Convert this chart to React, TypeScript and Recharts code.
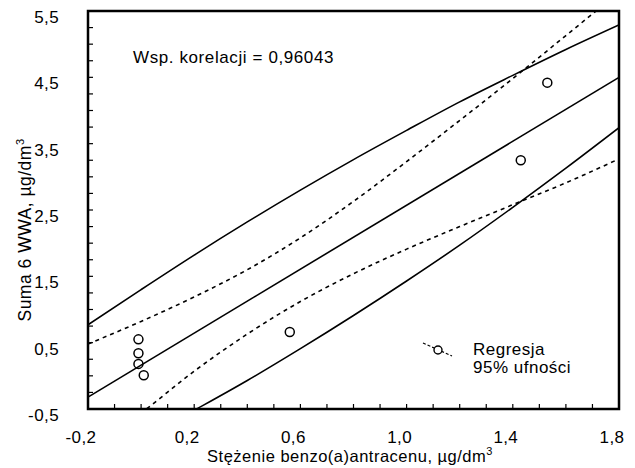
import React from "react";
import { ComposedChart, Line, Scatter, XAxis, YAxis, ReferenceArea } from "recharts";

// curves at every 0,2 along the x axis
const xGrid = [-0.2, 0.0, 0.2, 0.4, 0.6, 0.8, 1.0, 1.2, 1.4, 1.6, 1.8];
const upperBand = [0.77, 1.3, 1.82, 2.32, 2.8, 3.26, 3.7, 4.13, 4.53, 4.92, 5.29];
const upperConf = [0.48, 0.82, 1.19, 1.6, 2.08, 2.63, 3.23, 3.85, 4.48, 5.13, 5.78];
const lowerConf = [-1.12, -0.56, 0.07, 0.63, 1.12, 1.54, 1.91, 2.25, 2.58, 2.91, 3.27];
const lowerBand = [-1.36, -0.96, -0.52, -0.07, 0.41, 0.91, 1.43, 1.97, 2.54, 3.13, 3.74];

// regression line, end points
const regX = [-0.2, 1.8];
const regY = [-0.32, 4.5];

// measured samples
const sampleX = [-0.01, -0.01, -0.01, 0.01, 0.56, 1.43, 1.53];
const sampleY = [0.55, 0.34, 0.18, 0.01, 0.66, 3.25, 4.42];

const xMajor = [-0.2, 0.2, 0.6, 1.0, 1.4, 1.8];
const xTicks = [
  -0.2, -0.1, 0.0, 0.1, 0.2, 0.3, 0.4, 0.5, 0.6, 0.7, 0.8, 0.9, 1.0, 1.1, 1.2,
  1.3, 1.4, 1.5, 1.6, 1.7, 1.8,
];
const yMajor = [-0.5, 0.5, 1.5, 2.5, 3.5, 4.5, 5.5];
const yTicks = [
  -0.5, -0.25, 0.0, 0.25, 0.5, 0.75, 1.0, 1.25, 1.5, 1.75, 2.0, 2.25, 2.5, 2.75,
  3.0, 3.25, 3.5, 3.75, 4.0, 4.25, 4.5, 4.75, 5.0, 5.25, 5.5,
];

const FONT = "'Liberation Sans', Arial, sans-serif";
const PLOT = { left: 88, right: 619, top: 11, bottom: 409 };

const toPoints = (xs: number[], ys: number[]) =>
  xs.map((x, i) => ({ x, y: ys[i] }));
const isMajor = (list: number[], v: number) =>
  list.some((m) => Math.abs(m - v) < 1e-6);
const fmt = (v: number) => v.toFixed(1).replace(".", ",");

const tickText = { fontFamily: FONT, fontSize: 17, letterSpacing: 0.4, fill: "#000" };
const titleText = { fontFamily: FONT, letterSpacing: 0.5, fill: "#000" };

function BottomTick(props: any) {
  const { x, payload } = props;
  const major = isMajor(xMajor, payload.value);
  return (
    <g>
      <line x1={x} x2={x} y1={PLOT.bottom} y2={PLOT.bottom - 5} stroke="#000" strokeWidth={1.2} />
      {major && (
        <text x={x - 7} y={443} textAnchor="middle" style={tickText}>
          {fmt(payload.value)}
        </text>
      )}
    </g>
  );
}

function TopTick(props: any) {
  const { x } = props;
  return <line x1={x} x2={x} y1={PLOT.top} y2={PLOT.top + 5} stroke="#000" strokeWidth={1.2} />;
}

function LeftTick(props: any) {
  const { y, payload } = props;
  const major = isMajor(yMajor, payload.value);
  return (
    <g>
      <line x1={PLOT.left} x2={PLOT.left + 5} y1={y} y2={y} stroke="#000" strokeWidth={1.2} />
      {major && (
        <text x={59} y={y + 12} textAnchor="end" style={tickText}>
          {fmt(payload.value)}
        </text>
      )}
    </g>
  );
}

function RightTick(props: any) {
  const { y } = props;
  return <line x1={PLOT.right} x2={PLOT.right - 5} y1={y} y2={y} stroke="#000" strokeWidth={1.2} />;
}

const Ring = (p: any) => (
  <circle cx={p.cx} cy={p.cy} r={4.5} fill="none" stroke="#000" strokeWidth={1.5} />
);

const lineProps = {
  dataKey: "y",
  stroke: "#000",
  strokeWidth: 1.6,
  dot: false,
  activeDot: false,
  isAnimationActive: false,
};

export default function App() {
  return (
    <div
      style={{
        position: "absolute",
        left: 0,
        top: 0,
        width: 635,
        height: 468,
        background: "#fff",
        fontFamily: FONT,
      }}
    >
      <ComposedChart
        width={635}
        height={468}
        margin={{ top: PLOT.top, right: 635 - PLOT.right, bottom: 0, left: 0 }}
      >
        <XAxis
          dataKey="x"
          type="number"
          domain={[-0.2, 1.8]}
          ticks={xTicks}
          interval={0}
          allowDataOverflow
          height={468 - PLOT.bottom}
          tickLine={false}
          axisLine={false}
          tick={(p: any) => <BottomTick {...p} />}
          label={{
            content: () => (
              <text x={350} y={462} textAnchor="middle" style={{ ...titleText, fontSize: 16.5 }}>
                <tspan>Stężenie benzo(a)antracenu, µg/dm</tspan>
                <tspan dy={-7} fontSize={11}>3</tspan>
              </text>
            ),
          }}
        />
        <XAxis
          xAxisId="top"
          orientation="top"
          dataKey="x"
          type="number"
          domain={[-0.2, 1.8]}
          ticks={xTicks}
          interval={0}
          allowDataOverflow
          height={0}
          tickLine={false}
          axisLine={false}
          tick={(p: any) => <TopTick {...p} />}
        />
        <YAxis
          type="number"
          domain={[-0.5, 5.5]}
          ticks={yTicks}
          interval={0}
          allowDataOverflow
          width={PLOT.left}
          tickLine={false}
          axisLine={false}
          tick={(p: any) => <LeftTick {...p} />}
          label={{
            content: () => (
              <text
                x={31}
                y={230}
                textAnchor="middle"
                transform="rotate(-90, 31, 230)"
                style={{ ...titleText, fontSize: 17.5 }}
              >
                <tspan>Suma 6 WWA, µg/dm</tspan>
                <tspan dy={-7} fontSize={11}>3</tspan>
              </text>
            ),
          }}
        />
        <YAxis
          yAxisId="right"
          orientation="right"
          type="number"
          domain={[-0.5, 5.5]}
          ticks={yTicks}
          interval={0}
          allowDataOverflow
          width={0}
          tickLine={false}
          axisLine={false}
          tick={(p: any) => <RightTick {...p} />}
        />

        <Line data={toPoints(xGrid, upperBand)} type="monotone" {...lineProps} />
        <Line data={toPoints(xGrid, lowerBand)} type="monotone" {...lineProps} />
        <Line
          data={toPoints(xGrid, upperConf)}
          type="monotone"
          strokeDasharray="4 4"
          {...lineProps}
        />
        <Line
          data={toPoints(xGrid, lowerConf)}
          type="monotone"
          strokeDasharray="4 4"
          {...lineProps}
        />
        <Line data={toPoints(regX, regY)} type="linear" {...lineProps} />
        <Scatter
          data={toPoints(sampleX, sampleY)}
          dataKey="y"
          shape={Ring}
          isAnimationActive={false}
        />

        {/* plot frame */}
        <ReferenceArea
          x1={-0.2}
          x2={1.8}
          y1={-0.5}
          y2={5.5}
          fill="none"
          fillOpacity={0}
          stroke="#000"
          strokeWidth={2.5}
          strokeOpacity={1}
          ifOverflow="visible"
        />
      </ComposedChart>

      <div
        style={{
          position: "absolute",
          left: 133,
          top: 49,
          fontSize: 17,
          letterSpacing: 0.6,
          lineHeight: 1,
          whiteSpace: "nowrap",
        }}
      >
        Wsp. korelacji = 0,96043
      </div>

      <svg
        width={40}
        height={24}
        style={{ position: "absolute", left: 418, top: 338 }}
      >
        <line x1={5} y1={5} x2={34} y2={18} stroke="#000" strokeWidth={1.2} strokeDasharray="3 2" />
        <circle cx={20} cy={12} r={4} fill="#fff" stroke="#000" strokeWidth={1.4} />
      </svg>
      <div
        style={{
          position: "absolute",
          left: 473,
          top: 341,
          fontSize: 17,
          letterSpacing: 0.5,
          lineHeight: "18px",
          whiteSpace: "nowrap",
        }}
      >
        <div>Regresja</div>
        <div>95% ufności</div>
      </div>
    </div>
  );
}
